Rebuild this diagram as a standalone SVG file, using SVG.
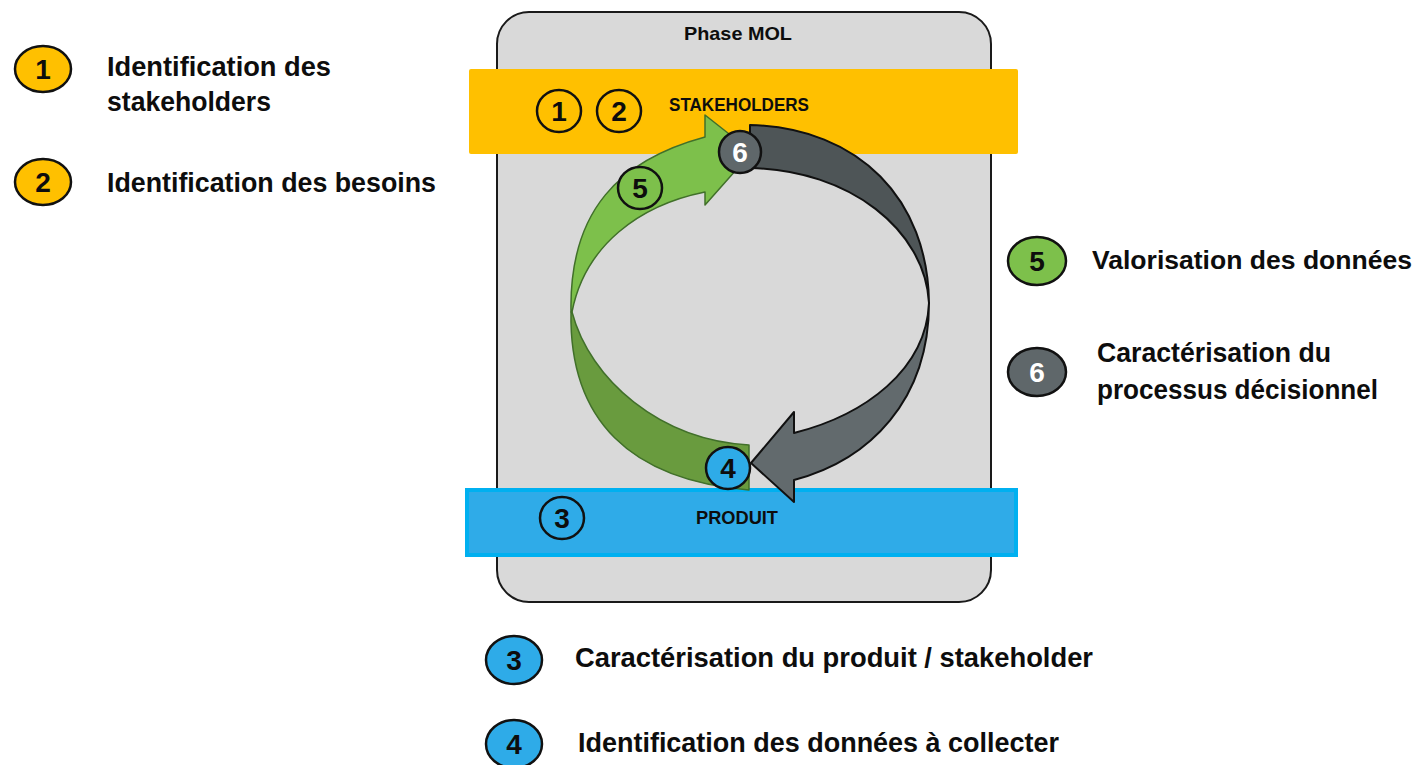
<svg xmlns="http://www.w3.org/2000/svg" width="1420" height="765" viewBox="0 0 1420 765">
<style>
.t{font-family:"Liberation Sans",Arial,sans-serif;font-weight:bold;fill:#0d0d0d}
.lg{font-size:28px}
.sm{font-size:18px}
.num{font-family:"Liberation Sans",Arial,sans-serif;font-weight:bold;font-size:28px;text-anchor:middle;fill:#0d0d0d}
.badge{stroke:#111;stroke-width:2.5}
.ring{fill:none;stroke:#111;stroke-width:2.5}
.ga{stroke:#111;stroke-width:2;stroke-linejoin:round}
.gr{stroke:#41702a;stroke-width:1.5;stroke-linejoin:round}
</style>
<rect width="1420" height="765" fill="#ffffff"/>
<g id="phase-mol">
<rect x="497" y="12" width="494" height="590" rx="32" fill="#d9d9d9" stroke="#1a1a1a" stroke-width="2"/>
<text class="t" x="738" y="40" font-size="19" text-anchor="middle" textLength="108" lengthAdjust="spacingAndGlyphs">Phase MOL</text>
</g>
<g id="stakeholders-band">
<rect x="469" y="69" width="549" height="85" rx="2" fill="#ffc000"/>
<text class="t sm" x="739" y="111" text-anchor="middle" textLength="140" lengthAdjust="spacingAndGlyphs">STAKEHOLDERS</text>
<ellipse class="ring" cx="559" cy="111" rx="22" ry="21"/>
<text class="num" x="559" y="121">1</text>
<ellipse class="ring" cx="619" cy="111" rx="22" ry="21"/>
<text class="num" x="619" y="121">2</text>
</g>
<g id="produit-band">
<rect x="467" y="490" width="549" height="65" fill="#2fabe8" stroke="#00b0f0" stroke-width="4"/>
<text class="t sm" x="737" y="524" text-anchor="middle" textLength="82" lengthAdjust="spacingAndGlyphs">PRODUIT</text>
<ellipse class="ring" cx="562" cy="518" rx="22" ry="21"/>
<text class="num" x="562" y="528">3</text>
</g>
<g id="connectors">
<path class="gr" fill="#699b3e" d="M 571,312 C 569,420 630,480 749,490 L 749,445 C 660,440 590,380 572,312 Z"/>
<path class="gr" fill="#7dc04b" d="M 571,312 C 569,210 620,160 705,137 L 705,115 L 752,152 L 705,205 L 705,192 C 640,205 585,245 572,312 Z"/>
<path class="ga" fill="#4e5557" d="M 750,125 C 860,128 928,200 929,303 C 925,230 850,170 750,168 Z"/>
<path class="ga" fill="#626a6d" d="M 929,303 C 929,400 870,460 794,480 L 794,502 L 751,463 L 794,412 L 794,433 C 865,415 926,370 929,303 Z"/>
</g>
<g id="badge-6">
<ellipse class="badge" cx="740" cy="152" rx="21" ry="21" fill="#5f676a"/>
<text class="num" x="740" y="162" style="fill:#ffffff">6</text>
</g>
<g id="badge-5">
<ellipse class="badge" cx="640" cy="188" rx="22" ry="21" fill="#7dc04b"/>
<text class="num" x="640" y="198">5</text>
</g>
<g id="badge-4">
<ellipse class="badge" cx="728" cy="468" rx="22" ry="21" fill="#2eabe8"/>
<text class="num" x="728" y="478">4</text>
</g>
<g id="legend-1">
<ellipse class="badge" cx="43" cy="69" rx="28" ry="23" fill="#ffc000"/>
<text class="num" x="43" y="79">1</text>
<text class="t lg" x="107" y="76" textLength="224" lengthAdjust="spacingAndGlyphs">Identification des</text>
<text class="t lg" x="107" y="111" textLength="164" lengthAdjust="spacingAndGlyphs">stakeholders</text>
</g>
<g id="legend-2">
<ellipse class="badge" cx="43" cy="182" rx="28" ry="23" fill="#ffc000"/>
<text class="num" x="43" y="192">2</text>
<text class="t lg" x="107" y="192" textLength="329" lengthAdjust="spacingAndGlyphs">Identification des besoins</text>
</g>
<g id="legend-5">
<ellipse class="badge" cx="1037" cy="261" rx="29" ry="24" fill="#7dc04b"/>
<text class="num" x="1037" y="271">5</text>
<text class="t" x="1092" y="269" font-size="26.5" textLength="320" lengthAdjust="spacingAndGlyphs">Valorisation des données</text>
</g>
<g id="legend-6">
<ellipse class="badge" cx="1037" cy="372" rx="29" ry="24" fill="#5f676a"/>
<text class="num" x="1037" y="382" style="fill:#ffffff">6</text>
<text class="t lg" x="1097" y="362" textLength="234" lengthAdjust="spacingAndGlyphs">Caractérisation du</text>
<text class="t lg" x="1097" y="399" textLength="281" lengthAdjust="spacingAndGlyphs">processus décisionnel</text>
</g>
<g id="legend-3">
<ellipse class="badge" cx="514" cy="660" rx="28" ry="24" fill="#2eabe8"/>
<text class="num" x="514" y="670">3</text>
<text class="t lg" x="575" y="667" textLength="518" lengthAdjust="spacingAndGlyphs">Caractérisation du produit / stakeholder</text>
</g>
<g id="legend-4">
<ellipse class="badge" cx="514" cy="744" rx="28" ry="24" fill="#2eabe8"/>
<text class="num" x="514" y="754">4</text>
<text class="t lg" x="578" y="752" textLength="481" lengthAdjust="spacingAndGlyphs">Identification des données à collecter</text>
</g>
</svg>
